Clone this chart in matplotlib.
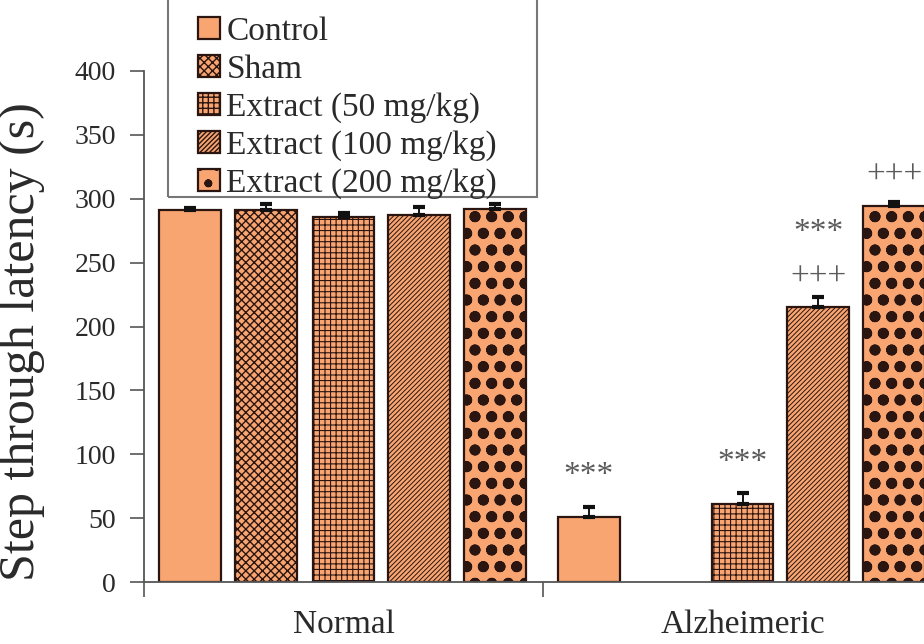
import matplotlib
matplotlib.use("Agg")
import matplotlib.pyplot as plt
from matplotlib.patches import Rectangle
import numpy as np

plt.rcParams['font.family'] = ['Liberation Serif', 'DejaVu Serif']

groups = ["Normal", "Alzheimeric"]
series = ["Control", "Sham", "Extract (50 mg/kg)", "Extract (100 mg/kg)", "Extract (200 mg/kg)"]
values = {
    "Control":             [291, 51],
    "Sham":                [291, np.nan],
    "Extract (50 mg/kg)":  [286, 61],
    "Extract (100 mg/kg)": [287, 215],
    "Extract (200 mg/kg)": [292, 294],
}
errors = {
    "Control":             [1.5, 7.5],
    "Sham":                [4.5, 0],
    "Extract (50 mg/kg)":  [3, 9],
    "Extract (100 mg/kg)": [6.5, 8],
    "Extract (200 mg/kg)": [3.5, 3.5],
}
hatches = ["", "xxxx", "+++", "///////", "o."]
hatch_lw = [1.0, 1.0, 0.8, 0.7, 3.2]
# significance marks: (group index, series index, text, y position)
annotations = [
    (1, 0, "***", 83),
    (1, 2, "***", 93),
    (1, 3, "***", 273),
    (1, 3, "+++", 238),
    (1, 4, "+++", 318),
]

fill = "#F9A571"
edge = "#2a1510"

W, H = 924, 644
fig = plt.figure(figsize=(W / 100, H / 100), dpi=100)
ax = fig.add_axes([144 / W, 1 - 582 / H, (942 - 144) / W, (582 - 71) / H])

x = np.arange(len(groups))
offsets = [-0.385, -0.194, 0.0, 0.19, 0.38]
width = 0.155

handles = []
for i, s in enumerate(series):
    with plt.rc_context({'hatch.linewidth': hatch_lw[i], 'hatch.color': edge}):
        bars = ax.bar(x + offsets[i], values[s], width, color=fill, edgecolor=edge,
                      linewidth=1.6, hatch=hatches[i] if hatches[i] else None, label=s, zorder=2)
        for b in bars:
            if hasattr(b, "set_hatch_linewidth"):
                b.set_hatch_linewidth(hatch_lw[i])
    err = np.array(errors[s])
    ax.errorbar(x + offsets[i], values[s], yerr=[np.zeros_like(err), err], fmt="none",
                ecolor="#111111", elinewidth=1.4, capsize=4.5, capthick=3, zorder=3)
    handles.append(bars)

for g, si, txt, yv in annotations:
    ax.text(x[g] + offsets[si], yv, txt, ha="center", va="center", fontsize=24,
            color="#5a5a5a")

ax.set_xlim(-0.5, 1.5)
ax.set_ylim(0, 400)
ax.set_yticks(np.arange(0, 401, 50))
ax.tick_params(axis="y", direction="out", length=10, width=1.2, color="#555555",
               labelsize=20, pad=10, labelcolor="#2a2a2a")
ax.set_xticks([-0.5, 0.5, 1.5])
ax.set_xticklabels([])
ax.set_xticks(x, minor=True)
ax.set_xticklabels(groups, minor=True)
ax.tick_params(axis="x", which="major", direction="out", length=11, width=1.2, color="#555555")
ax.tick_params(axis="x", which="minor", length=0, labelsize=24, pad=19.5, labelcolor="#2a2a2a")

for sp in ["top", "right"]:
    ax.spines[sp].set_visible(False)
for sp in ["left", "bottom"]:
    ax.spines[sp].set_color("#555555")
    ax.spines[sp].set_linewidth(1.3)

ax.set_ylabel("Step through latency (s)", fontsize=36, color="#2a2a2a")
ax.yaxis.set_label_coords(-0.124, 0.47)

leg = fig.legend(handles=handles, labels=series, loc="lower left",
                 bbox_to_anchor=(198 / W, 1 - 199 / H), fontsize=24,
                 frameon=False,
                 handlelength=0.65, handleheight=0.65, handletextpad=0.2,
                 labelspacing=0.22, borderpad=0.0, borderaxespad=0,
                 labelcolor="#2a2a2a")
frame = Rectangle((168 / W, 1 - 197 / H), (537 - 168) / W, 0.5,
                  transform=fig.transFigure, facecolor="none", edgecolor="#777777",
                  linewidth=1.5, zorder=0)
fig.patches.append(frame)

fig.savefig("out.png", dpi=100)
